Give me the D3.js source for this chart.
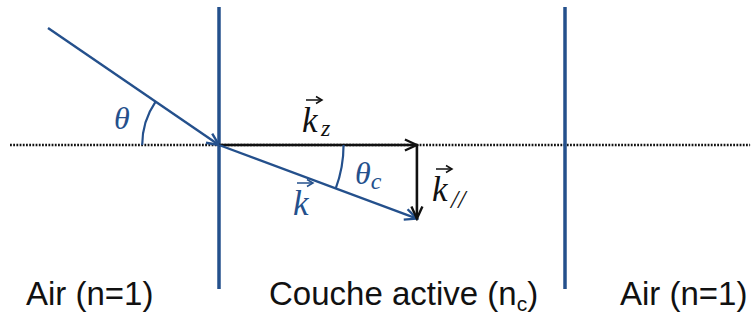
<!DOCTYPE html>
<html>
<head>
<meta charset="utf-8">
<script src="https://cdn.jsdelivr.net/npm/d3@7"></script>
<style>
  body { margin: 0; background: #fff; }
  svg { display: block; }
</style>
</head>
<body>
<svg id="Diagram"></svg>
<script>
// geometry of the sketch, in units of the layer thickness
let interfaceZ = [0, 1]
let interfaceSpan = [0.399, -0.416]      // top / bottom of the interface lines
let axisSpan = [-0.604, 1.535]           // dotted optical axis
let incidentAngleDeg = 34.4              // theta
let incidentLength = 0.599
let refractedAngleDeg = 20.4             // theta_c
let kzLength = 0.572
let regionNames = ["Air (n=1)", "Couche active (n", "Air (n=1)"]
let regionSubs = ["", "c", ""]

let config = {}

function initConfig() {
    let width = 756
    let height = 314
    let blue = "#24508c"
    let black = "#111111"
    let container = d3.select("#Diagram")
        .attr("width", width)
        .attr("height", height)
    // one unit = 346 px in both directions
    let x = d3.scaleLinear().domain([0, 1]).range([219, 565])
    let y = d3.scaleLinear().domain([0, 1]).range([145, -201])
    config = {width, height, blue, black, container, x, y}
}

function addMarkers() {
    let {container, blue, black} = config
    let defs = container.append("defs")
    ;[["arrowBlue", blue], ["arrowBlack", black]].forEach(([id, col]) => {
        defs.append("marker")
            .attr("id", id)
            .attr("markerUnits", "userSpaceOnUse")
            .attr("viewBox", "-14 -7 16 14")
            .attr("markerWidth", 16)
            .attr("markerHeight", 14)
            .attr("refX", 0)
            .attr("refY", 0)
            .attr("orient", "auto")
            .append("path")
            .attr("d", "M-12,-5.5 L0,0 L-12,5.5")
            .attr("fill", "none")
            .attr("stroke", col)
            .attr("stroke-width", 2.4)
            .attr("stroke-linejoin", "miter")
    })
}

function drawGeometry() {
    let {container, x, y, blue, black} = config
    let rad = Math.PI / 180

    // dotted axis
    container.append("line")
        .attr("x1", x(axisSpan[0])).attr("x2", x(axisSpan[1]))
        .attr("y1", y(0)).attr("y2", y(0))
        .attr("stroke", "#111")
        .attr("stroke-width", 2.4)
        .attr("stroke-dasharray", "1.8,1.4")

    // interfaces
    container.selectAll(".interface").data(interfaceZ)
        .enter().append("line")
        .attr("class", "interface")
        .attr("x1", d => x(d)).attr("x2", d => x(d))
        .attr("y1", y(interfaceSpan[0])).attr("y2", y(interfaceSpan[1]))
        .attr("stroke", blue)
        .attr("stroke-width", 3.5)

    // incident ray
    let a = incidentAngleDeg * rad
    container.append("line")
        .attr("x1", x(-incidentLength * Math.cos(a)))
        .attr("y1", y(incidentLength * Math.sin(a)))
        .attr("x2", x(0)).attr("y2", y(0))
        .attr("stroke", blue).attr("stroke-width", 2.4)
        .attr("marker-end", "url(#arrowBlue)")

    // k_z
    container.append("line")
        .attr("x1", x(0)).attr("y1", y(0))
        .attr("x2", x(kzLength)).attr("y2", y(0))
        .attr("stroke", black).attr("stroke-width", 2.6)
        .attr("marker-end", "url(#arrowBlack)")

    // refracted ray k
    let c = refractedAngleDeg * rad
    let kPar = kzLength * Math.tan(c)
    container.append("line")
        .attr("x1", x(0)).attr("y1", y(0))
        .attr("x2", x(kzLength)).attr("y2", y(-kPar))
        .attr("stroke", blue).attr("stroke-width", 2.4)
        .attr("marker-end", "url(#arrowBlue)")

    // k_//
    container.append("line")
        .attr("x1", x(kzLength)).attr("y1", y(0))
        .attr("x2", x(kzLength)).attr("y2", y(-kPar))
        .attr("stroke", black).attr("stroke-width", 2.6)
        .attr("marker-end", "url(#arrowBlack)")

    // angle arcs
    let p1 = d3.path()
    let r1 = x(0.222) - x(0)
    p1.arc(x(0), y(0), r1, Math.PI, Math.PI + a, false)
    container.append("path").attr("d", p1.toString())
        .attr("fill", "none").attr("stroke", blue).attr("stroke-width", 2.2)

    let p2 = d3.path()
    let r2 = x(0.36) - x(0)
    p2.arc(x(0), y(0), r2, 0, c, false)
    container.append("path").attr("d", p2.toString())
        .attr("fill", "none").attr("stroke", blue).attr("stroke-width", 2.2)
}

function vecLabel(px, py, sub, color, subSize, subDy) {
    let {container} = config
    let g = container.append("g").attr("fill", color)
    g.append("text")
        .attr("x", px).attr("y", py)
        .attr("font-family", "Liberation Serif, DejaVu Serif, serif")
        .attr("font-style", "italic")
        .attr("font-size", "35px")
        .text("k")
    // arrow over the letter
    g.append("line")
        .attr("x1", px + 4).attr("x2", px + 19)
        .attr("y1", py - 32).attr("y2", py - 32)
        .attr("stroke", color).attr("stroke-width", 1.5)
    g.append("path")
        .attr("d", `M${px + 14},${py - 35.5} L${px + 20},${py - 32} L${px + 14},${py - 28.5}`)
        .attr("fill", "none").attr("stroke", color).attr("stroke-width", 1.5)
    if (sub) {
        g.append("text")
            .attr("x", px + 19).attr("y", py + subDy)
            .attr("font-family", "Liberation Serif, DejaVu Serif, serif")
            .attr("font-style", "italic")
            .attr("font-size", subSize)
            .text(sub)
    }
}

function drawLabels() {
    let {container, blue, black} = config
    let serif = "Liberation Serif, DejaVu Serif, serif"

    // theta
    container.append("text")
        .attr("x", 114).attr("y", 129)
        .attr("font-family", serif).attr("font-style", "italic")
        .attr("font-size", "32px").attr("fill", blue)
        .text("θ")

    // theta_c
    let tc = container.append("text")
        .attr("x", 355).attr("y", 184)
        .attr("font-family", serif).attr("font-style", "italic")
        .attr("font-size", "32px").attr("fill", blue)
    tc.append("tspan").text("θ")
    tc.append("tspan").attr("dy", 5).attr("font-size", "24px").text("c")

    vecLabel(302, 132, "z", black, "24px", 4)
    vecLabel(432, 201, "//", black, "26px", 7)
    vecLabel(293, 215, "", blue)

    // region names under the sketch
    let labelX = [26, 269, 620]
    regionNames.forEach((name, i) => {
        let t = container.append("text")
            .attr("x", labelX[i]).attr("y", 305)
            .attr("font-family", "Liberation Sans, Arial, sans-serif")
            .attr("font-size", "33px")
            .attr("fill", "#111")
        t.append("tspan").text(name)
        if (regionSubs[i]) {
            t.append("tspan").attr("dy", 6).attr("font-size", "21px").text(regionSubs[i])
            t.append("tspan").attr("dy", -6).text(")")
        }
    })
}

function draw() {
    initConfig()
    addMarkers()
    drawGeometry()
    drawLabels()
}

window.addEventListener("load", draw)
</script>
</body>
</html>
